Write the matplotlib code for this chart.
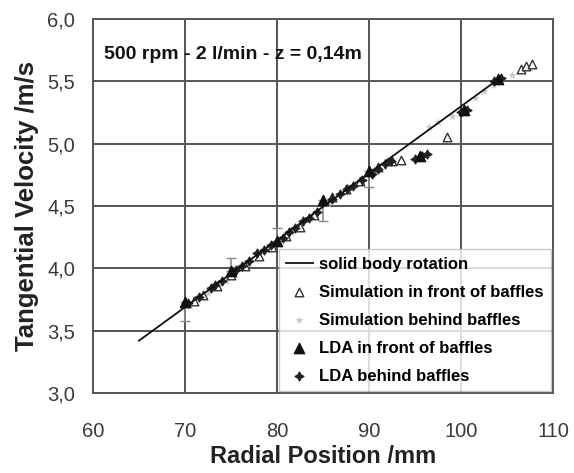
import matplotlib
matplotlib.use("Agg")
import matplotlib.pyplot as plt
from matplotlib.ticker import FuncFormatter

plt.rcParams['font.family'] = ['Liberation Sans', 'DejaVu Sans']

# solid body rotation line
line_x = [65.0, 104.3]
line_v = [3.42, 5.53]

# Simulation in front of baffles (open triangles)
sim_front_x = [71, 72, 73.5, 75, 76.5, 78, 79.5, 81, 82.5, 84, 86, 87.5, 89, 91, 92.5, 93.5, 98.5, 106.5, 107.1, 107.7]
sim_front_v = [3.74, 3.79, 3.86, 3.95, 4.02, 4.10, 4.17, 4.26, 4.33, 4.43, 4.57, 4.64, 4.70, 4.81, 4.86, 4.87, 5.05, 5.60, 5.62, 5.64]

# Simulation behind baffles (light grey)
sim_behind_x = [70.5, 72.5, 74.5, 77, 79, 81.5, 83.5, 85.5, 88.5, 90.5, 92, 96.5, 97.5, 99, 101.5, 102.5, 103.5, 105.5]
sim_behind_v = [3.70, 3.80, 3.90, 4.04, 4.15, 4.29, 4.40, 4.52, 4.68, 4.80, 4.87, 5.13, 5.17, 5.22, 5.37, 5.42, 5.47, 5.55]

# LDA in front of baffles (filled triangles, with error bars)
lda_front_x = [70, 75, 80, 85, 90, 95.5, 100.3, 104]
lda_front_v = [3.73, 3.98, 4.22, 4.55, 4.78, 4.90, 5.27, 5.52]
lda_front_err_low = [0.15, 0.0, 0.0, 0.17, 0.13, 0.0, 0.0, 0.0]
lda_front_err_high = [0.0, 0.10, 0.10, 0.0, 0.0, 0.0, 0.0, 0.0]

# LDA behind baffles (small black markers)
lda_behind_x = [70.3, 71.5, 72.8, 73.3, 74, 75.5, 76.2, 77, 77.8, 78.6, 79.4, 80.6, 81.3, 82, 82.8, 83.5, 84.3,
                86, 86.8, 87.6, 88.3, 89.2, 90.3, 91, 91.7, 92.4, 95, 95.8, 96.3, 100, 100.6, 103.6, 104.3]
lda_behind_v = [3.72, 3.77, 3.84, 3.87, 3.90, 3.99, 4.02, 4.06, 4.12, 4.15, 4.19, 4.24, 4.29, 4.32, 4.38, 4.40, 4.45,
                4.56, 4.60, 4.64, 4.66, 4.71, 4.76, 4.80, 4.84, 4.86, 4.88, 4.90, 4.92, 5.25, 5.27, 5.50, 5.53]

x_ticks = [60, 70, 80, 90, 100, 110]
y_ticks = [3.0, 3.5, 4.0, 4.5, 5.0, 5.5, 6.0]

fig = plt.figure(figsize=(5.74, 4.73), dpi=100)
ax = fig.add_axes([93/574, 80/473, 460/574, 374/473])

grid_c = '#555555'
ax.set_xlim(60, 110)
ax.set_ylim(3.0, 6.0)
ax.set_xticks(x_ticks)
ax.set_yticks(y_ticks)
ax.yaxis.set_major_formatter(FuncFormatter(lambda v, p: f"{v:.1f}".replace('.', ',')))
ax.grid(True, color=grid_c, linewidth=1.4)
ax.set_axisbelow(True)
for s in ax.spines.values():
    s.set_color(grid_c)
    s.set_linewidth(1.4)
ax.tick_params(length=0, labelsize=14.5, labelcolor='#3a3a3a')
ax.tick_params(axis='x', pad=21)
ax.tick_params(axis='y', pad=13)

ax.errorbar(lda_front_x, lda_front_v, yerr=[lda_front_err_low, lda_front_err_high], fmt='none',
            ecolor='#8a8a8a', elinewidth=1.2, capsize=3.5, zorder=2)
ax.scatter(sim_behind_x, sim_behind_v, marker='*', s=40, color='#c8c8c8', linewidths=0, zorder=3,
           label='Simulation behind baffles')
ax.scatter(sim_front_x, sim_front_v, marker='^', s=38, facecolors='white', edgecolors='#333333',
           linewidths=1.0, zorder=4, label='Simulation in front of baffles')
ax.scatter(lda_behind_x, lda_behind_v, marker=(4, 1, 0), s=40, color='#222222', zorder=5,
           label='LDA behind baffles')
ax.scatter(lda_front_x, lda_front_v, marker='^', s=55, color='#111111', zorder=5,
           label='LDA in front of baffles')
ax.plot(line_x, line_v, color='#111111', linewidth=1.3, zorder=6, label='solid body rotation')

h, l = ax.get_legend_handles_labels()
order = ['solid body rotation', 'Simulation in front of baffles', 'Simulation behind baffles',
         'LDA in front of baffles', 'LDA behind baffles']
hh = [h[l.index(o)] for o in order]
leg = ax.legend(hh, order, loc='lower right', bbox_to_anchor=(1.0, 0.0), frameon=True, fancybox=False,
                prop={'weight': 'bold', 'size': 12}, handlelength=1.6, handletextpad=0.4,
                labelspacing=0.78, borderpad=0.45, borderaxespad=0.1)
leg.get_frame().set_edgecolor('#bbbbbb')
leg.get_frame().set_linewidth(1.0)

ax.text(0.025, 0.905, '500 rpm - 2 l/min - z = 0,14m', transform=ax.transAxes, fontsize=14,
        fontweight='bold', color='#111111', va='center', ha='left')

ax.set_xlabel('Radial Position /mm', fontsize=17, fontweight='bold', color='#222222', labelpad=3)
ax.set_ylabel('Tangential Velocity /m/s', fontsize=18.5, fontweight='bold', color='#222222', labelpad=6)

fig.savefig('out.png', dpi=100)
